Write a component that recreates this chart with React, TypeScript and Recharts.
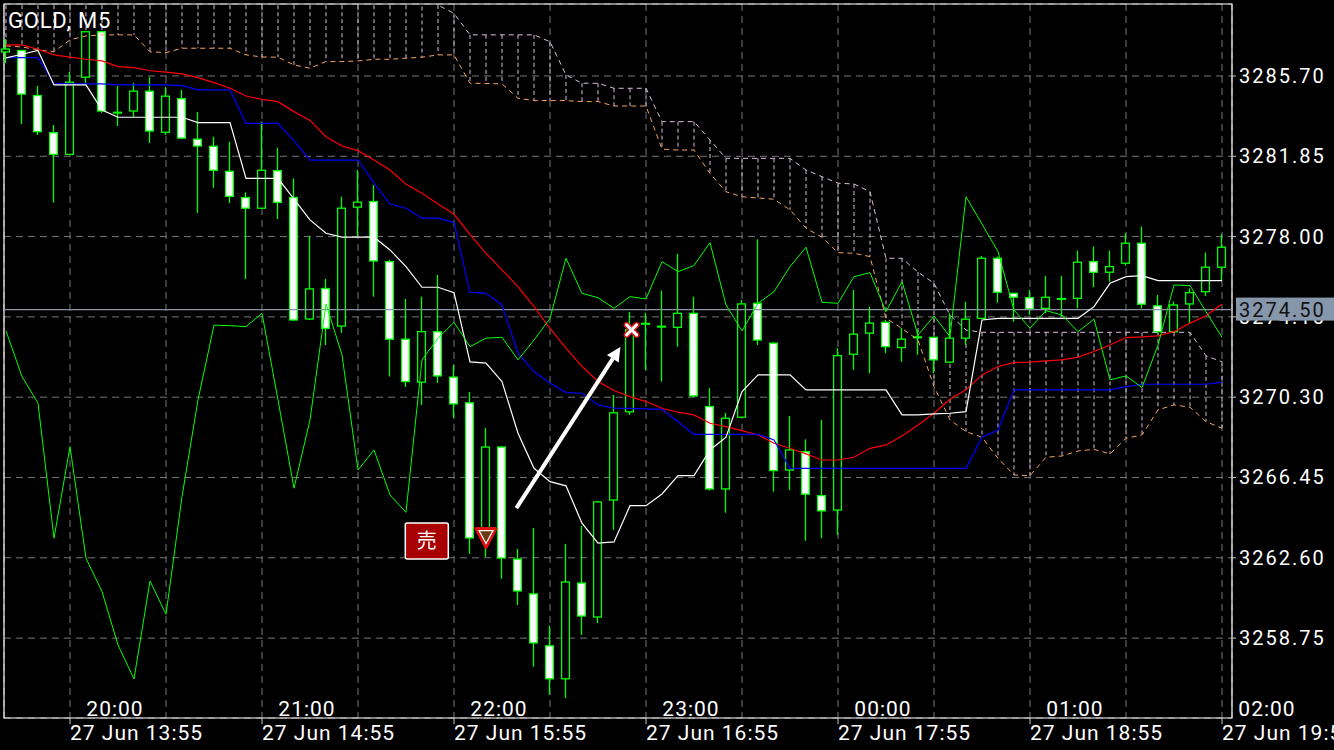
import React from 'react';
import {
  ComposedChart, Bar, Line, XAxis, YAxis, CartesianGrid,
  ReferenceLine, ReferenceArea, ReferenceDot,
} from 'recharts';

const LIME = '#00ff00';
const THISTLE = '#d8bfd8';
const SANDY = '#f4a460';

const opens = [3286.85, 3286.92, 3284.76, 3282.98, 3281.94, 3285.64, 3287.82, 3283.94, 3284.02, 3284.97, 3283.00, 3284.61, 3282.67, 3282.33, 3281.13, 3279.87, 3279.36, 3281.16, 3279.87, 3274.05, 3275.51, 3273.71, 3279.41, 3279.68, 3276.80, 3273.08, 3271.02, 3273.44, 3271.26, 3270.03, 3263.45, 3267.91, 3262.54, 3260.87, 3258.38, 3256.80, 3261.39, 3259.76, 3265.37, 3269.60, 3273.81, 3273.68, 3273.65, 3274.32, 3269.85, 3265.90, 3269.34, 3274.80, 3272.89, 3266.81, 3267.69, 3265.58, 3264.89, 3272.36, 3273.37, 3273.89, 3272.68, 3273.17, 3273.17, 3271.98, 3273.13, 3274.08, 3276.96, 3275.28, 3275.07, 3274.56, 3275.01, 3275.04, 3276.80, 3276.29, 3276.72, 3277.68, 3274.68, 3273.44, 3274.77, 3275.36, 3276.53];
const highs = [3287.47, 3286.95, 3285.22, 3283.35, 3285.91, 3287.85, 3287.85, 3285.22, 3285.37, 3285.65, 3285.17, 3285.03, 3283.97, 3282.79, 3282.55, 3280.12, 3283.51, 3282.26, 3280.79, 3278.03, 3275.97, 3279.91, 3281.19, 3280.47, 3276.88, 3275.01, 3275.12, 3276.16, 3271.85, 3270.55, 3268.83, 3267.95, 3263.03, 3264.03, 3259.34, 3263.27, 3264.13, 3265.33, 3270.41, 3274.39, 3274.34, 3275.41, 3277.17, 3275.12, 3270.73, 3269.55, 3274.96, 3277.87, 3272.91, 3269.40, 3268.28, 3269.21, 3272.65, 3275.44, 3274.64, 3274.00, 3273.62, 3273.52, 3273.20, 3274.32, 3274.88, 3277.07, 3277.04, 3275.30, 3275.44, 3276.11, 3276.11, 3277.33, 3277.52, 3277.33, 3278.16, 3278.48, 3275.20, 3274.88, 3275.52, 3277.23, 3278.11];
const lows = [3286.33, 3283.40, 3282.87, 3279.63, 3281.90, 3285.37, 3283.93, 3283.30, 3283.74, 3282.49, 3282.87, 3282.68, 3279.14, 3280.34, 3279.60, 3275.96, 3279.34, 3278.84, 3273.96, 3274.00, 3272.80, 3273.38, 3278.03, 3275.12, 3271.29, 3270.79, 3269.93, 3270.98, 3269.31, 3262.79, 3262.64, 3261.59, 3260.34, 3257.38, 3256.03, 3255.88, 3258.90, 3259.47, 3263.94, 3269.45, 3271.61, 3271.05, 3272.72, 3270.31, 3265.83, 3264.76, 3269.30, 3272.80, 3265.77, 3265.85, 3263.42, 3263.54, 3263.70, 3271.61, 3271.45, 3272.41, 3272.00, 3272.33, 3271.45, 3271.95, 3272.80, 3274.05, 3274.83, 3273.92, 3274.24, 3274.32, 3274.16, 3274.56, 3275.57, 3275.84, 3276.61, 3274.56, 3273.36, 3273.40, 3273.85, 3275.15, 3275.92];
const closes = [3286.99, 3284.83, 3283.03, 3281.94, 3285.40, 3287.82, 3284.02, 3283.96, 3284.97, 3283.06, 3284.73, 3282.72, 3282.34, 3281.18, 3279.93, 3279.36, 3281.18, 3279.64, 3274.00, 3275.49, 3273.60, 3279.36, 3279.65, 3276.83, 3273.08, 3271.05, 3273.44, 3271.32, 3269.98, 3263.55, 3267.91, 3262.59, 3261.01, 3258.52, 3256.80, 3261.44, 3259.81, 3265.28, 3269.55, 3273.53, 3273.84, 3273.70, 3274.32, 3270.36, 3265.90, 3269.29, 3274.77, 3273.04, 3266.78, 3267.77, 3265.65, 3264.85, 3272.29, 3273.32, 3273.85, 3272.72, 3273.08, 3273.19, 3272.09, 3273.13, 3274.04, 3276.96, 3275.33, 3275.09, 3274.53, 3275.09, 3275.03, 3276.77, 3276.29, 3276.56, 3277.68, 3274.76, 3273.44, 3274.72, 3275.31, 3276.53, 3277.49];

const tenkan = [3286.57, 3286.74, 3286.92, 3285.27, 3285.27, 3285.27, 3284.07, 3283.72, 3283.72, 3283.72, 3283.72, 3283.72, 3283.46, 3283.46, 3283.46, 3280.79, 3280.79, 3280.79, 3279.80, 3278.80, 3278.16, 3277.97, 3277.97, 3277.97, 3277.36, 3276.56, 3275.57, 3275.57, 3275.31, 3271.99, 3271.93, 3271.05, 3268.57, 3266.89, 3266.25, 3266.05, 3264.26, 3263.30, 3263.36, 3265.10, 3265.10, 3265.66, 3266.54, 3266.54, 3267.77, 3268.38, 3270.57, 3271.37, 3271.37, 3271.37, 3270.65, 3270.65, 3270.65, 3270.65, 3270.65, 3270.65, 3269.45, 3269.45, 3269.50, 3269.53, 3269.61, 3274.00, 3274.08, 3274.08, 3274.08, 3274.08, 3274.08, 3274.08, 3274.64, 3275.76, 3276.08, 3276.13, 3275.89, 3275.89, 3275.89, 3275.89, 3275.89];
const kijun = [3286.58, 3286.58, 3286.58, 3285.35, 3285.32, 3285.32, 3285.32, 3285.27, 3285.27, 3285.27, 3285.27, 3285.24, 3285.03, 3285.03, 3285.03, 3283.43, 3283.43, 3283.43, 3282.59, 3281.67, 3281.67, 3281.67, 3281.67, 3280.56, 3279.56, 3279.36, 3278.88, 3278.88, 3278.67, 3275.33, 3275.28, 3274.72, 3272.41, 3271.53, 3270.97, 3270.52, 3270.49, 3269.93, 3269.77, 3269.76, 3269.74, 3269.72, 3269.12, 3268.52, 3268.52, 3268.52, 3268.52, 3268.52, 3268.25, 3266.89, 3266.89, 3266.89, 3266.89, 3266.89, 3266.89, 3266.89, 3266.89, 3266.89, 3266.89, 3266.89, 3266.89, 3268.38, 3268.73, 3270.65, 3270.65, 3270.65, 3270.65, 3270.65, 3270.65, 3270.65, 3270.81, 3270.92, 3270.92, 3270.92, 3270.92, 3270.92, 3271.02];
const ma = [3287.19, 3287.19, 3286.98, 3286.71, 3286.60, 3286.50, 3286.42, 3286.15, 3286.10, 3285.95, 3285.88, 3285.80, 3285.62, 3285.38, 3285.11, 3284.74, 3284.58, 3284.47, 3283.99, 3283.57, 3282.79, 3282.34, 3282.12, 3281.67, 3281.19, 3280.51, 3280.08, 3279.56, 3279.07, 3278.11, 3277.20, 3276.40, 3275.60, 3274.64, 3273.60, 3272.65, 3271.77, 3271.05, 3270.62, 3270.33, 3270.09, 3269.77, 3269.58, 3269.45, 3269.05, 3268.89, 3268.70, 3268.49, 3268.09, 3267.85, 3267.58, 3267.29, 3267.29, 3267.42, 3267.85, 3268.01, 3268.44, 3268.97, 3269.53, 3270.20, 3270.65, 3271.37, 3271.77, 3271.96, 3271.98, 3272.04, 3272.09, 3272.22, 3272.49, 3272.80, 3273.16, 3273.19, 3273.24, 3273.44, 3273.85, 3274.20, 3274.77];
const chikou = [3273.48, 3271.29, 3270.01, 3263.54, 3267.93, 3262.58, 3260.98, 3258.42, 3256.79, 3261.49, 3259.89, 3265.53, 3270.17, 3273.75, 3273.73, 3273.68, 3274.32, 3270.17, 3265.94, 3269.21, 3274.77, 3272.33, 3266.81, 3267.77, 3265.61, 3264.78, 3272.09, 3273.13, 3273.89, 3272.72, 3273.13, 3273.17, 3272.09, 3273.04, 3274.08, 3276.96, 3275.28, 3275.07, 3274.56, 3275.12, 3275.01, 3276.80, 3276.32, 3276.61, 3277.71, 3274.72, 3273.48, 3274.80, 3275.36, 3276.56, 3277.49, 3274.85, 3274.80, 3276.08, 3276.27, 3274.40, 3275.84, 3273.28, 3274.19, 3273.20, 3279.91, 3278.60, 3277.28, 3274.48, 3273.61, 3274.45, 3274.24, 3273.44, 3274.04, 3271.13, 3271.32, 3270.76, 3272.80, 3275.68, 3275.65, 3274.40, 3273.17];
const spanA = [3287.14, 3287.09, 3286.95, 3286.86, 3287.43, 3287.62, 3287.67, 3287.67, 3287.67, 3286.86, 3286.82, 3287.03, 3287.03, 3287.03, 3287.03, 3286.71, 3286.61, 3286.60, 3286.23, 3286.07, 3286.39, 3286.39, 3286.42, 3286.50, 3286.50, 3286.55, 3286.60, 3286.71, 3286.71, 3285.35, 3285.34, 3285.32, 3284.63, 3284.52, 3284.52, 3284.52, 3284.47, 3284.47, 3284.26, 3284.26, 3284.26, 3282.19, 3282.15, 3282.15, 3281.03, 3280.15, 3279.91, 3279.85, 3279.79, 3279.28, 3278.40, 3277.97, 3277.23, 3277.20, 3277.04, 3274.08, 3273.60, 3273.04, 3270.81, 3269.21, 3268.65, 3268.38, 3267.37, 3266.57, 3266.54, 3267.42, 3267.48, 3267.72, 3267.80, 3267.58, 3268.33, 3268.49, 3269.69, 3269.93, 3269.82, 3269.13, 3268.81];
const spanB = [3290.10, 3290.10, 3290.10, 3290.10, 3290.10, 3290.10, 3290.10, 3290.10, 3290.10, 3290.10, 3290.10, 3290.10, 3290.10, 3290.10, 3290.10, 3290.10, 3290.10, 3290.10, 3290.10, 3290.10, 3290.10, 3290.10, 3290.10, 3290.10, 3290.10, 3290.10, 3289.70, 3289.10, 3288.70, 3287.67, 3287.67, 3287.67, 3287.67, 3287.67, 3287.34, 3285.75, 3285.35, 3285.35, 3285.11, 3285.11, 3285.11, 3283.51, 3283.51, 3283.51, 3282.63, 3281.75, 3281.75, 3281.75, 3281.75, 3281.75, 3281.19, 3280.87, 3280.56, 3280.52, 3280.15, 3276.96, 3276.96, 3276.30, 3275.76, 3274.24, 3273.52, 3273.41, 3273.41, 3273.41, 3273.41, 3273.41, 3273.41, 3273.41, 3273.41, 3273.41, 3273.41, 3273.41, 3273.41, 3273.41, 3273.41, 3272.28, 3272.00];

const priceTicks = [3258.75, 3262.60, 3266.45, 3270.30, 3274.15, 3278.00, 3281.85, 3285.70];
const gridTicks = [4, 10, 16, 22, 28, 34, 40, 46, 52, 58, 64, 70, 76];
const dateTicks = [4, 16, 28, 40, 52, 64, 76];
const dateLabels = ['27 Jun 13:55', '27 Jun 14:55', '27 Jun 15:55', '27 Jun 16:55', '27 Jun 17:55', '27 Jun 18:55', '27 Jun 19:55'];
const localLabels = ['20:00', '21:00', '22:00', '23:00', '00:00', '01:00', '02:00'];

const lastPrice = 3274.50;
const xDomain = [-0.125, 76.625];
const yDomain = [3254.92, 3289.15];

// trade marks
const sellTag = { i: 26.3, price: 3263.41 };
const sellMark = { i: 30, price: 3263.62 };
const closeMark = { i: 39.1, price: 3273.53 };
const tradeArrow = [{ x: 31.9, y: 3264.98 }, { x: 38.4, y: 3272.71 }];

const data = opens.map((o, i) => ({
  i,
  open: o,
  high: highs[i],
  low: lows[i],
  close: closes[i],
  range: [lows[i], highs[i]],
  tenkan: tenkan[i],
  kijun: kijun[i],
  ma: ma[i],
  chikou: chikou[i],
  spanA: spanA[i],
  spanB: spanB[i],
  cloud: [spanA[i], spanB[i]],
}));

const Candle = (props: any) => {
  const { x, y, width, height, payload } = props;
  const { open, close, high, low } = payload;
  const top = Math.min(y, y + height);
  const h = Math.abs(height);
  const k = high > low ? h / (high - low) : 0;
  const yO = top + (high - open) * k;
  const yC = top + (high - close) * k;
  const cx = x + width / 2;
  const bull = close >= open;
  const bTop = Math.min(yO, yC);
  const bH = Math.max(Math.abs(yO - yC), 0.8);
  return (
    <g>
      <line x1={cx} x2={cx} y1={top} y2={top + h} stroke={LIME} strokeWidth={1.3} />
      <rect x={x + 0.6} y={bTop} width={width - 1.2} height={bH}
        fill={bull ? '#000' : '#fff'} stroke={LIME} strokeWidth={1.3} />
    </g>
  );
};

const Hatch = (props: any) => {
  const { x, y, width, height } = props;
  const cx = x + width / 2;
  const top = Math.min(y, y + height);
  return <line x1={cx} x2={cx} y1={top} y2={top + Math.abs(height)}
    stroke={THISTLE} strokeWidth={1} strokeDasharray="4 3" />;
};

const TimeTick = (props: any) => {
  const { x, y, payload } = props;
  const k = dateTicks.indexOf(payload.value);
  if (k < 0) return <g />;
  const font = { fontFamily: 'Roboto', fontSize: 21, letterSpacing: 1, fill: '#fff' };
  return (
    <g>
      <line x1={x} x2={x} y1={y} y2={y + 6} stroke="#c8c8c8" />
      <text x={x} y={y + 22} {...font}>{dateLabels[k]}</text>
      <text x={x + 45} y={y - 2} textAnchor="middle" {...font}>{localLabels[k]}</text>
    </g>
  );
};

const PriceTick = (props: any) => {
  const { x, y, payload } = props;
  return (
    <text x={x} y={y} dy={7} fill="#fff" fontFamily="Roboto" fontSize={20} letterSpacing={2}>
      {Number(payload.value).toFixed(2)}
    </text>
  );
};

// current price tag, drawn by a mirrored price axis so it sits above the tick labels
const PriceTag = (props: any) => {
  const { x, y, payload } = props;
  return (
    <g>
      <rect x={x + 4} y={y - 12} width={98} height={23} fill="#8797ab" />
      <text x={x + 7} y={y} dy={7} fill="#111" fontFamily="Roboto" fontSize={20} letterSpacing={2}>
        {Number(payload.value).toFixed(2)}
      </text>
    </g>
  );
};

const SellTag = (props: any) => {
  const { cx, cy } = props;
  return (
    <g>
      <rect x={cx - 21.5} y={cy - 18} width={43} height={36} rx={2}
        fill="#a80000" stroke="#fff" strokeWidth={1.5} />
      <text x={cx} y={cy} dy={7} textAnchor="middle" fill="#fff"
        fontFamily="Noto Sans CJK JP" fontSize={20}>売</text>
    </g>
  );
};

const SellMark = (props: any) => {
  const { cx, cy } = props;
  return (
    <g>
      <polygon points={`${cx - 10},${cy - 8} ${cx + 10},${cy - 8} ${cx},${cy + 11}`}
        fill="#6b3a10" stroke="#e01010" strokeWidth={3} strokeLinejoin="round" />
      <polygon points={`${cx - 7},${cy - 6} ${cx + 7},${cy - 6} ${cx},${cy + 7}`}
        fill="none" stroke="#fff" strokeWidth={1.2} />
    </g>
  );
};

const CloseMark = (props: any) => {
  const { cx, cy } = props;
  const s = 5;
  return (
    <g strokeLinecap="round">
      <path d={`M${cx - s},${cy - s}L${cx + s},${cy + s}M${cx + s},${cy - s}L${cx - s},${cy + s}`}
        stroke="#e01010" strokeWidth={6} />
      <path d={`M${cx - s},${cy - s}L${cx + s},${cy + s}M${cx + s},${cy - s}L${cx - s},${cy + s}`}
        stroke="#fff" strokeWidth={3} />
    </g>
  );
};

const Arrow = (props: any) => {
  const { x1, y1, x2, y2 } = props;
  const len = Math.hypot(x2 - x1, y2 - y1) || 1;
  const dx = (x2 - x1) / len;
  const dy = (y2 - y1) / len;
  const bx = x2 - dx * 14;
  const by = y2 - dy * 14;
  return (
    <g>
      <line x1={x1} y1={y1} x2={bx} y2={by} stroke="#fff" strokeWidth={4} />
      <polygon points={`${x2},${y2} ${bx - dy * 7},${by + dx * 7} ${bx + dy * 7},${by - dx * 7}`} fill="#fff" />
    </g>
  );
};

export default function App() {
  return (
    <div style={{ position: 'absolute', left: 0, top: 0, width: 1334, height: 750, background: '#000' }}>
      <ComposedChart width={1334} height={750} data={data}
        margin={{ top: 4, right: 0, bottom: 0, left: 4 }}>
        <CartesianGrid stroke="#777" strokeDasharray="7 5" />
        <XAxis dataKey="i" type="number" domain={xDomain} ticks={gridTicks} interval={0}
          height={32} axisLine={false} tickLine={false} tickSize={0} tickMargin={0} tick={<TimeTick />} />
        <XAxis xAxisId="h" dataKey="i" type="number" domain={xDomain} hide />
        <YAxis orientation="right" domain={yDomain} allowDataOverflow ticks={priceTicks} interval={0}
          width={102} axisLine={false} tickSize={4} tickMargin={3}
          tickLine={{ stroke: '#c8c8c8' }} tick={<PriceTick />} />
        <YAxis yAxisId="tag" orientation="right" mirror domain={yDomain} allowDataOverflow ticks={[lastPrice]}
          interval={0} width={102} axisLine={false} tickLine={false} tickSize={0} tickMargin={0}
          tick={<PriceTag />} />

        <Bar xAxisId="h" dataKey="cloud" barSize={2} shape={<Hatch />} isAnimationActive={false} />
        <Line dataKey="spanA" stroke={SANDY} strokeWidth={1} strokeDasharray="5 4" dot={false} isAnimationActive={false} />
        <Line dataKey="spanB" stroke={THISTLE} strokeWidth={1} strokeDasharray="5 4" dot={false} isAnimationActive={false} />

        <ReferenceLine y={lastPrice} stroke="#8a94a2" strokeWidth={1.2} />

        <Bar dataKey="range" barSize={9} shape={<Candle />} isAnimationActive={false} />

        <Line dataKey="ma" stroke="#ff0000" strokeWidth={1.2} dot={false} isAnimationActive={false} />
        <Line dataKey="kijun" stroke="#0000ff" strokeWidth={1.2} dot={false} isAnimationActive={false} />
        <Line dataKey="tenkan" stroke="#ffffff" strokeWidth={1.2} dot={false} isAnimationActive={false} />
        <Line dataKey="chikou" stroke={LIME} strokeWidth={1} dot={false} isAnimationActive={false} />

        <ReferenceLine segment={tradeArrow} shape={<Arrow />} />
        <ReferenceDot x={sellTag.i} y={sellTag.price} shape={<SellTag />} />
        <ReferenceDot x={sellMark.i} y={sellMark.price} shape={<SellMark />} />
        <ReferenceDot x={closeMark.i} y={closeMark.price} shape={<CloseMark />} />

        <ReferenceArea x1={xDomain[0]} x2={xDomain[1]} y1={yDomain[0]} y2={yDomain[1]}
          fill="none" fillOpacity={0} stroke="#fff" strokeWidth={1.2} />
      </ComposedChart>
      <div style={{
        position: 'absolute', left: 8, top: 10, color: '#fff', fontFamily: 'Roboto',
        fontSize: 22, lineHeight: '22px', letterSpacing: 0.8,
      }}>GOLD, M5</div>
    </div>
  );
}
